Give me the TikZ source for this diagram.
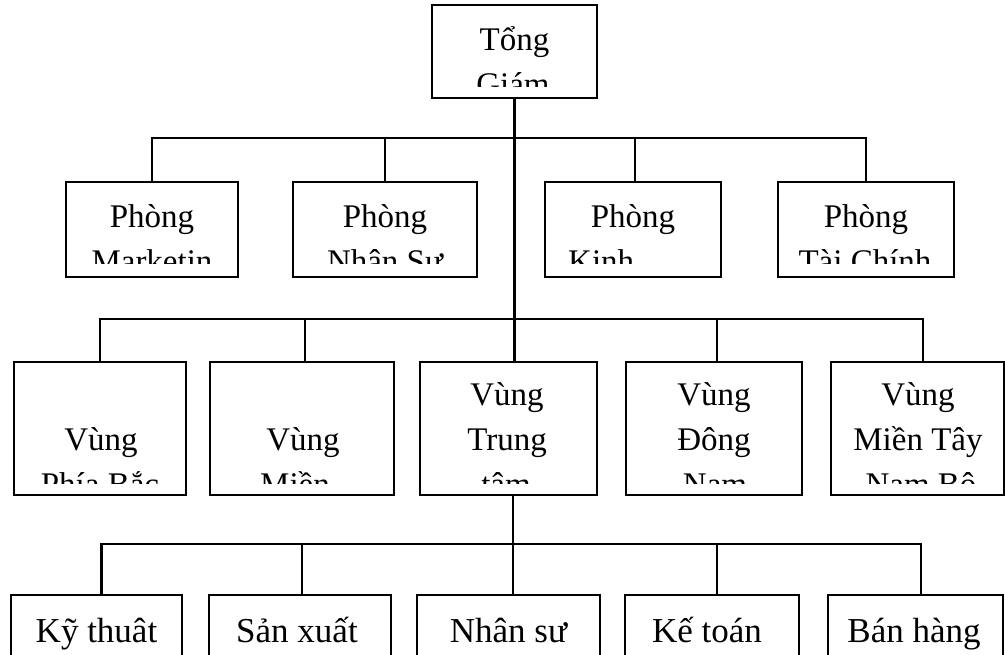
\documentclass[tikz,border=0pt]{standalone}
\usepackage{fontspec}
\setmainfont{Liberation Serif}
\begin{document}
\begin{tikzpicture}[x=1pt,y=-1pt,
  box/.style={draw, rectangle, line width=2.8pt, inner sep=0pt},
  wire/.style={line width=2.4pt},
  lbl/.style={anchor=base, inner sep=0pt, font=\fontsize{33}{40}\selectfont},
  lowlbl/.style={lbl, font=\fontsize{35}{40}\selectfont}]
\useasboundingbox (0,0) rectangle (1005,654);
\clip (0,0) rectangle (1005,654);

% ---- boxes ----
\node[box, minimum width=165, minimum height=93] (top) at (514.5,51.5) {};

\node[box, minimum width=172, minimum height=95] (mkt) at (152,229.5) {};
\node[box, minimum width=184, minimum height=95] (hr)  at (385,229.5) {};
\node[box, minimum width=176, minimum height=95] (biz) at (633,229.5) {};
\node[box, minimum width=176, minimum height=95] (fin) at (866,229.5) {};

\node[box, minimum width=172, minimum height=133] (r1) at (100,428.5) {};
\node[box, minimum width=184, minimum height=133] (r2) at (302,428.5) {};
\node[box, minimum width=177, minimum height=133] (r3) at (508.5,428.5) {};
\node[box, minimum width=176, minimum height=133] (r4) at (714,428.5) {};
\node[box, minimum width=173, minimum height=133] (r5) at (917.5,428.5) {};

\node[box, minimum width=171, minimum height=90] (d1) at (96.5,640) {};
\node[box, minimum width=182, minimum height=90] (d2) at (300,640) {};
\node[box, minimum width=183, minimum height=90] (d3) at (508.5,640) {};
\node[box, minimum width=174, minimum height=90] (d4) at (712,640) {};
\node[box, minimum width=175, minimum height=90] (d5) at (915.5,640) {};

% ---- connectors ----
\coordinate (bus1) at (514,138);
\coordinate (bus2) at (514,319);
\coordinate (bus3) at (513,544);

\draw[wire] (top.south) -- (top.south |- r3.north);
\draw[wire] (mkt.north) |- (bus1) -| (fin.north);
\draw[wire] (hr.north) -- (hr.north |- bus1);
\draw[wire] ([xshift=2pt]biz.north) -- ([xshift=2pt]biz.north |- bus1);

\draw[wire] (r1.north) |- (bus2) -| ([xshift=5.5pt]r5.north);
\draw[wire] ([xshift=3pt]r2.north) -- ([xshift=3pt]r2.north |- bus2);
\draw[wire] ([xshift=3pt]r4.north) -- ([xshift=3pt]r4.north |- bus2);

\draw[wire] ([xshift=4.5pt]r3.south) -- ([xshift=4.5pt]d3.north);
\draw[wire] ([xshift=5pt]d1.north) |- (bus3) -| ([xshift=5.5pt]d5.north);
\draw[wire] ([xshift=2pt]d2.north) -- ([xshift=2pt]d2.north |- bus3);
\draw[wire] ([xshift=5pt]d4.north) -- ([xshift=5pt]d4.north |- bus3);

% ---- labels (text that runs past a box is cut off inside it) ----
\begin{scope}
  \clip (top.north west) rectangle ([yshift=13pt]top.south east);
  \node[lbl] (ttop1) at (514.5,50) {Tổng};
  \node[lbl] (ttop2) at (513,95) {Giám};
\end{scope}

\begin{scope}
  \clip (mkt.north west) rectangle ([yshift=15pt]mkt.south east);
  \node[lbl] (tmkt1) at (152,227) {Phòng};
  \node[lbl] (tmkt2) at (152,272) {Marketin};
\end{scope}
\begin{scope}
  \clip (hr.north west) rectangle ([yshift=15pt]hr.south east);
  \node[lbl] (thr1) at (385,227) {Phòng};
  \node[lbl] (thr2) at (385,272) {Nhân Sự};
\end{scope}
\begin{scope}
  \clip (biz.north west) rectangle ([yshift=15pt]biz.south east);
  \node[lbl] (tbiz1) at (633,227) {Phòng};
  \node[lbl, anchor=base west] (tbiz2) at (568,272) {Kinh};
\end{scope}
\begin{scope}
  \clip (fin.north west) rectangle ([yshift=15pt]fin.south east);
  \node[lbl] (tfin1) at (866,227) {Phòng};
  \node[lbl] (tfin2) at (865,272) {Tài Chính};
\end{scope}

\begin{scope}
  \clip (r1.north west) rectangle ([yshift=13pt]r1.south east);
  \node[lbl] (tr1a) at (101,450) {Vùng};
  \node[lbl] (tr1b) at (100,495) {Phía Bắc};
\end{scope}
\begin{scope}
  \clip (r2.north west) rectangle ([yshift=13pt]r2.south east);
  \node[lbl] (tr2a) at (303,450) {Vùng};
  \node[lbl] (tr2b) at (295,495) {Miền};
\end{scope}
\begin{scope}
  \clip (r3.north west) rectangle ([yshift=13pt]r3.south east);
  \node[lbl] (tr3a) at (507,405) {Vùng};
  \node[lbl] (tr3b) at (507,450) {Trung};
  \node[lbl] (tr3c) at (506,495) {tâm};
\end{scope}
\begin{scope}
  \clip (r4.north west) rectangle ([yshift=13pt]r4.south east);
  \node[lbl] (tr4a) at (714,405) {Vùng};
  \node[lbl] (tr4b) at (714,450) {Đông};
  \node[lbl] (tr4c) at (715,495) {Nam};
\end{scope}
\begin{scope}
  \clip (r5.north west) rectangle ([yshift=13pt]r5.south east);
  \node[lbl] (tr5a) at (918,405) {Vùng};
  \node[lbl] (tr5b) at (918,450) {Miền Tây};
  \node[lbl] (tr5c) at (921,495) {Nam Bộ};
\end{scope}

\node[lowlbl] (td1) at (96.5,642) {Kỹ thuât};
\node[lowlbl] (td2) at (297,642) {Sản xuất};
\node[lowlbl] (td3) at (508.5,642) {Nhân sư};
\node[lowlbl] (td4) at (707,642) {Kế toán};
\node[lowlbl] (td5) at (914,642) {Bán hàng};
\end{tikzpicture}
\end{document}
